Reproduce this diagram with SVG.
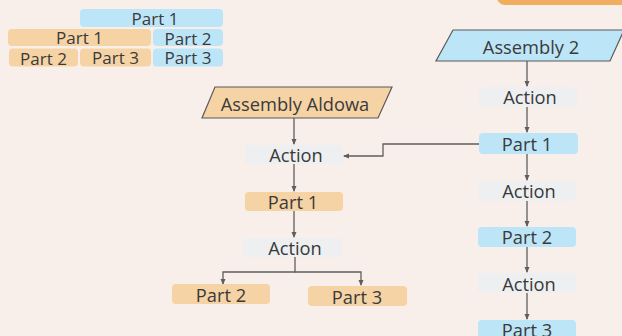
<svg xmlns="http://www.w3.org/2000/svg" width="622" height="336" viewBox="0 0 622 336">
  <defs>
    <style>
      .bg { fill: #f9efea; }
      .blue { fill: #bde5f8; }
      .orange { fill: #f5d3a5; }
      .action { fill: #eeeff0; }
      .para-blue { fill: #bde5f8; stroke: #5a5a5a; stroke-width: 1.2; }
      .para-orange { fill: #f5d3a5; stroke: #5a5a5a; stroke-width: 1.2; }
      text { font-family: "Open Sans", "DejaVu Sans", sans-serif; font-weight: 400; font-size: 18.3px; fill: #3a3a3a; text-anchor: middle; dominant-baseline: central; }
      .small { font-size: 17px; }
      .edge { fill: none; stroke: #5e5e5e; stroke-width: 1.3; }
    </style>
    <marker id="arrow" viewBox="0 0 6 6" refX="5" refY="3" markerWidth="6" markerHeight="6" markerUnits="userSpaceOnUse" orient="auto">
      <path d="M0,0.5 L6,3 L0,5.5 Z" fill="#5e5e5e"/>
    </marker>
  </defs>

  <rect class="bg" x="0" y="0" width="622" height="336"/>

  <!-- corner tab -->
  <rect x="497" y="-20" width="140" height="25" rx="8" fill="#f0ae5e"/>

  <!-- legend block -->
  <g id="legend">
    <rect class="blue" x="80" y="9" width="143" height="18" rx="4"/>
    <text class="small" x="155" y="18">Part 1</text>
    <rect class="orange" x="8" y="29" width="143" height="17" rx="4"/>
    <text class="small" x="79.5" y="37.5">Part 1</text>
    <rect class="blue" x="153" y="29" width="70" height="17" rx="4"/>
    <text class="small" x="188" y="38">Part 2</text>
    <rect class="orange" x="9" y="48.5" width="69" height="18" rx="4"/>
    <text class="small" x="43.5" y="58">Part 2</text>
    <rect class="orange" x="80" y="48.5" width="71" height="18" rx="4"/>
    <text class="small" x="115.5" y="57">Part 3</text>
    <rect class="blue" x="153" y="48.5" width="70" height="18" rx="4"/>
    <text class="small" x="188" y="57">Part 3</text>
  </g>

  <!-- connectors -->
  <g id="connectors">
    <path class="edge" d="M294,118 V144" marker-end="url(#arrow)"/>
    <path class="edge" d="M294,164 V191" marker-end="url(#arrow)"/>
    <path class="edge" d="M294,211 V237" marker-end="url(#arrow)"/>
    <path class="edge" d="M295,257 V272 H223 V284" marker-end="url(#arrow)"/>
    <path class="edge" d="M295,272 H361 V285" marker-end="url(#arrow)"/>
    <path class="edge" d="M527,61 V86" marker-end="url(#arrow)"/>
    <path class="edge" d="M527,107 V132" marker-end="url(#arrow)"/>
    <path class="edge" d="M527,154 V180" marker-end="url(#arrow)"/>
    <path class="edge" d="M527,201 V226" marker-end="url(#arrow)"/>
    <path class="edge" d="M527,247 V272" marker-end="url(#arrow)"/>
    <path class="edge" d="M527,293 V319" marker-end="url(#arrow)"/>
    <path class="edge" d="M479,144 H383 V156 H344" marker-end="url(#arrow)"/>
  </g>

  <!-- left flow -->
  <g id="assembly-aldowa">
    <polygon class="para-orange" points="215,87 392,87 378,118 202,118"/>
    <text x="295" y="103">Assembly Aldowa</text>
  </g>
  <g id="left-action-1">
    <rect class="action" x="245" y="145" width="98" height="19" rx="4"/>
    <text x="296" y="154.5">Action</text>
  </g>
  <g id="left-part-1">
    <rect class="orange" x="245" y="192" width="98" height="19" rx="4"/>
    <text x="293" y="201">Part 1</text>
  </g>
  <g id="left-action-2">
    <rect class="action" x="243" y="238" width="99" height="19" rx="4"/>
    <text x="295" y="247">Action</text>
  </g>
  <g id="left-part-2">
    <rect class="orange" x="172" y="284" width="98" height="20" rx="4"/>
    <text x="221" y="294">Part 2</text>
  </g>
  <g id="left-part-3">
    <rect class="orange" x="308" y="286" width="99" height="20" rx="4"/>
    <text x="357" y="296">Part 3</text>
  </g>

  <!-- right flow -->
  <g id="assembly-2">
    <polygon class="para-blue" points="453,30 624,30 610,61 436,61"/>
    <text x="531" y="46">Assembly 2</text>
  </g>
  <g id="right-action-1">
    <rect class="action" x="479" y="87" width="98" height="20" rx="4"/>
    <text x="530" y="96.5">Action</text>
  </g>
  <g id="right-part-1">
    <rect class="blue" x="479" y="133" width="99" height="21" rx="4"/>
    <text x="527" y="143">Part 1</text>
  </g>
  <g id="right-action-2">
    <rect class="action" x="478" y="181" width="98" height="20" rx="4"/>
    <text x="529" y="190">Action</text>
  </g>
  <g id="right-part-2">
    <rect class="blue" x="478" y="227" width="98" height="20" rx="4"/>
    <text x="527" y="236.5">Part 2</text>
  </g>
  <g id="right-action-3">
    <rect class="action" x="478" y="273" width="98" height="20" rx="4"/>
    <text x="529" y="283">Action</text>
  </g>
  <g id="right-part-3">
    <rect class="blue" x="478" y="320" width="98" height="20" rx="4"/>
    <text x="527" y="329">Part 3</text>
  </g>
</svg>
